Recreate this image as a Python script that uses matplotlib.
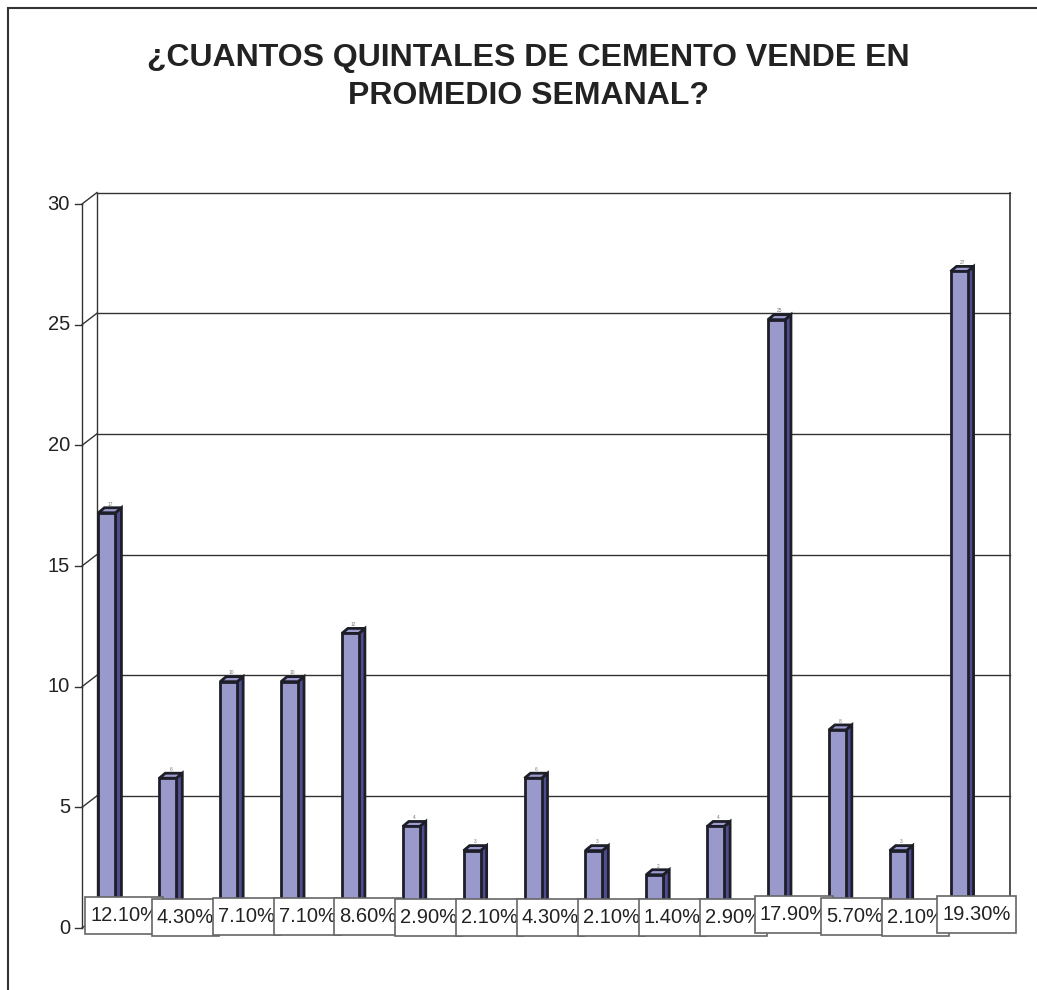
import matplotlib.pyplot as plt
from matplotlib.patches import Polygon, Rectangle

plt.rcParams['font.family'] = ['Liberation Sans', 'DejaVu Sans']

# datos
valores = [17, 6, 10, 10, 12, 4, 3, 6, 3, 2, 4, 25, 8, 3, 27]
porcentajes = ['12.10%', '4.30%', '7.10%', '7.10%', '8.60%', '2.90%', '2.10%', '4.30%',
               '2.10%', '1.40%', '2.90%', '17.90%', '5.70%', '2.10%', '19.30%']
ticks_y = [0, 5, 10, 15, 20, 25, 30]
titulo = "¿CUANTOS QUINTALES DE CEMENTO VENDE EN\nPROMEDIO SEMANAL?"

dpi = 100
fig = plt.figure(figsize=(10.37, 9.90), dpi=dpi)

# marco exterior
fig.patches.append(Rectangle((8 / 1037, -0.05), 1.2, (990 - 8) / 990 + 0.05,
                             transform=fig.transFigure, fill=False,
                             edgecolor='#333333', linewidth=1.5))

ax_l, ax_b, ax_w, ax_h = 82 / 1037, 62 / 990, 913 / 1037, 724 / 990
ax = fig.add_axes([ax_l, ax_b, ax_w, ax_h])
n = len(valores)
ax.set_xlim(0, n)
ax.set_ylim(0, 30)
ax.axis('off')

# pixeles por unidad de datos
px_x = 1037 * ax_w / n
px_y = 990 * ax_h / 30
dx, dy = 15 / px_x, 11.5 / px_y

# pared del fondo, lineas de rejilla y pared lateral
for v in ticks_y:
    ax.plot([dx, n + dx], [v + dy, v + dy], color='#333333', lw=1, clip_on=False, zorder=1)
    ax.plot([0, dx], [v, v + dy], color='#333333', lw=1, clip_on=False, zorder=1)
    ax.plot([-7 / px_x, 0], [v, v], color='#333333', lw=1, clip_on=False, zorder=1)
    ax.text(-12 / px_x, v, str(v), ha='right', va='center', fontsize=14.5, color='#222222')
ax.plot([dx, dx], [dy, 30 + dy], color='#333333', lw=1, clip_on=False, zorder=1)
ax.plot([n + dx, n + dx], [dy, 30 + dy], color='#333333', lw=1.2, clip_on=False, zorder=1)
ax.plot([0, 0], [0, 30], color='#333333', lw=1, clip_on=False, zorder=1)

# barras 3D
ancho = 17 / px_x
sdx, sdy = 6 / px_x, 5 / px_y
base = 5 / px_y
for i, v in enumerate(valores):
    xc = i + 0.5 - 5.5 / px_x
    x0, x1 = xc - ancho / 2, xc + ancho / 2
    y0, y1 = base, v + base
    kw = dict(edgecolor='#1e1e28', linewidth=2, joinstyle='miter', zorder=3)
    ax.add_patch(Polygon([(x1, y0), (x1 + sdx, y0 + sdy), (x1 + sdx, y1 + sdy), (x1, y1)],
                         facecolor='#4d4d8f', **kw))
    ax.add_patch(Polygon([(x0, y1), (x1, y1), (x1 + sdx, y1 + sdy), (x0 + sdx, y1 + sdy)],
                         facecolor='#9c9cd0', **kw))
    ax.add_patch(Rectangle((x0, y0), ancho, v, facecolor='#9999cc', **kw))
    ax.text(xc + sdx / 2, y1 + sdy + 0.05, str(v), ha='center', va='bottom',
            fontsize=3.5, color='#777777', zorder=4)

# etiquetas de porcentaje (caja blanca ajustada al texto)
fig.canvas.draw()
ren = fig.canvas.get_renderer()
caja_h = 37 / px_y
for i, (p, v) in enumerate(zip(porcentajes, valores)):
    xc = i + 0.5 + 12 / px_x
    yc = (10 + 0.13 * v) / px_y
    z = 10 + 2 * i
    t = ax.text(xc, yc, p, ha='center', va='center', fontsize=14.5, color='#222222',
                zorder=z + 1, clip_on=False)
    tw = t.get_window_extent(ren).width / px_x
    caja_w = tw + 10 / px_x
    ax.add_patch(Rectangle((xc - caja_w / 2, yc - caja_h / 2), caja_w, caja_h,
                           facecolor='white', edgecolor='#666666', linewidth=1.2,
                           zorder=z, clip_on=False))

fig.text(528 / 1037, 1 - 77 / 990, titulo, ha='center', va='center', fontsize=23,
         fontweight='bold', color='#222222', linespacing=1.38)

fig.savefig('out.png', dpi=dpi)
